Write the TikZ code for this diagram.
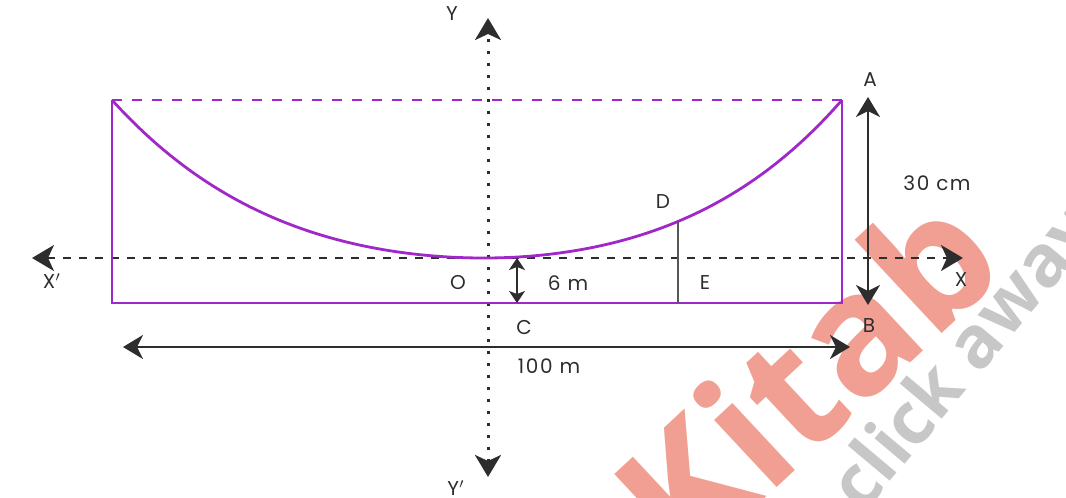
\documentclass[tikz,border=0pt]{standalone}
\usepackage{fontspec}
\setsansfont{Open Sans}
\newfontfamily\lblfont[LetterSpace=8]{Poppins}
\usetikzlibrary{arrows.meta}
\definecolor{purp}{RGB}{160,40,200}
\definecolor{ink}{RGB}{45,45,45}
\definecolor{wmred}{RGB}{232,95,75}
\definecolor{wmgray}{RGB}{185,185,185}
\begin{document}
\begin{tikzpicture}[x=0.5pt,y=-0.5pt,
  purpline/.style={draw=purp,line width=1.4pt},
  purpdash/.style={draw=purp,line width=1.4pt,dash pattern=on 5pt off 5pt},
  axisdash/.style={draw=ink,line width=1.1pt,dash pattern=on 4pt off 4pt},
  axisdot/.style={draw=ink,line width=1.5pt,dash pattern=on 1.5pt off 4.5pt},
  dimline/.style={draw=ink,line width=1.2pt,{Stealth[length=10pt,width=12pt,inset=3pt]}-{Stealth[length=10pt,width=12pt,inset=3pt]}},
  smalldim/.style={draw=ink,line width=0.8pt,{Stealth[length=6pt,width=8pt,inset=1.5pt]}-{Stealth[length=6pt,width=8pt,inset=1.5pt]}},
  lbl/.style={font=\lblfont\fontsize{10}{12}\selectfont,text=ink,inner sep=0pt}]
\useasboundingbox (0,0) rectangle (1066,498);
\begin{scope}
\clip (0,0) rectangle (1066,498);
% watermark
\node[font=\sffamily\bfseries\fontsize{84}{84}\selectfont,text=wmred,text opacity=0.6,rotate=43,inner sep=0pt] (wm1) at (805,375) {Kitab};
\node[font=\sffamily\bfseries\fontsize{36}{38}\selectfont,text=wmgray,text opacity=0.8,rotate=50,inner sep=0pt] (wm2) at (968,360) {click away};
\end{scope}
% coordinates
\coordinate (TL) at (112,100);
\coordinate (TR) at (842,100);
\coordinate (BL) at (112,303);
\coordinate (BR) at (842,303);
\coordinate (Dp) at (678,221.4);
\coordinate (Ef) at (678,303);
\coordinate (Xl) at (32,258);
\coordinate (Xr) at (963,258);
\coordinate (Yt) at (488,18);
\coordinate (Yb) at (488,477);
\coordinate (Aa) at (868,97);
\coordinate (Bb) at (868,305);
\coordinate (Sa) at (517,258);
\coordinate (Sb) at (517,303);
\coordinate (Hl) at (123,347);
\coordinate (Hr) at (850,347);
% axes
\draw[axisdash,{Stealth[length=11pt,width=13pt,inset=3pt]}-{Stealth[length=11pt,width=13pt,inset=3pt]}] (Xl) -- (Xr);
\draw[axisdot,{Stealth[length=11pt,width=13pt,inset=3pt]}-{Stealth[length=11pt,width=13pt,inset=3pt]}] (Yb) -- (Yt);
% tank
\draw[purpdash] (TL) -- (TR);
\draw[purpline] (TL) -- (BL) -- (BR) -- (TR);
\draw[purpline] plot[domain=0:1,samples=80,smooth] ({484-372*\x},{258-158*(0.7*\x*\x+0.3*\x*\x*\x*\x)});
\draw[purpline] plot[domain=0:1,samples=80,smooth] ({484+358*\x},{258-158*(0.7*\x*\x+0.3*\x*\x*\x*\x)});
\draw[draw=ink!80,line width=0.6pt] (Dp) -- (Ef);
% dimensions
\draw[dimline] (Aa) -- (Bb);
\draw[smalldim] (Sa) -- (Sb);
\draw[dimline] (Hl) -- (Hr);
% labels
\node[lbl] (lY) at (452,14) {Y};
\node[lbl] (lYp) at (456,488) {Y$'$};
\node[lbl] (lXp) at (52,281) {X$'$};
\node[lbl] (lX) at (961,280) {X};
\node[lbl] (lO) at (458,283) {O};
\node[lbl] (l6) at (568,283) {6 m};
\node[lbl] (lC) at (524,327) {C};
\node[lbl] (lD) at (663,202) {D};
\node[lbl] (lE) at (705,283) {E};
\node[lbl] (lA) at (870,80) {A};
\node[lbl] (lB) at (869,326) {B};
\node[lbl] (l30) at (937,183) {30 cm};
\node[lbl] (l100) at (549,366) {100 m};
\end{tikzpicture}
\end{document}
